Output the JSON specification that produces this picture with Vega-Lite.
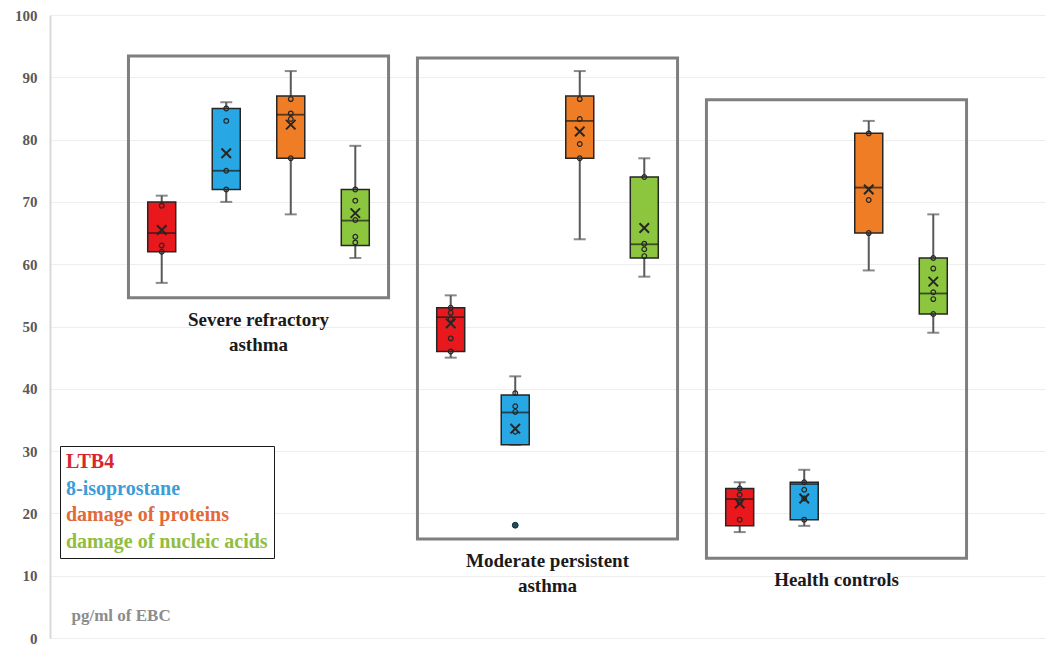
{
  "$schema": "https://vega.github.io/schema/vega-lite/v6.json",
  "width": 995,
  "height": 623,
  "autosize": {"type": "none"},
  "padding": {"left": 50, "top": 15, "right": 2, "bottom": 8},
  "background": "white",
  "config": {
    "view": {"stroke": null},
    "font": "Liberation Serif",
    "scale": {"bandPaddingInner": 0.1, "bandPaddingOuter": 0.2715, "offsetBandPaddingInner": 0, "offsetBandPaddingOuter": 0.0155}
  },
  "datasets": {
    "boxes": [
      {"group": "Severe", "marker": "LTB4", "lower": 57, "q1": 62, "median": 65, "q3": 70, "upper": 71, "mean": 65.5},
      {"group": "Severe", "marker": "8-isoprostane", "lower": 70, "q1": 72, "median": 75, "q3": 85, "upper": 86, "mean": 77.8},
      {"group": "Severe", "marker": "damage of proteins", "lower": 68, "q1": 77, "median": 84, "q3": 87, "upper": 91, "mean": 82.4},
      {"group": "Severe", "marker": "damage of nucleic acids", "lower": 61, "q1": 63, "median": 67, "q3": 72, "upper": 79, "mean": 68.2},
      {"group": "Moderate", "marker": "LTB4", "lower": 45, "q1": 46, "median": 51.5, "q3": 53, "upper": 55, "mean": 50.5},
      {"group": "Moderate", "marker": "8-isoprostane", "lower": 31, "q1": 31, "median": 36.2, "q3": 39, "upper": 42, "mean": 33.6},
      {"group": "Moderate", "marker": "damage of proteins", "lower": 64, "q1": 77, "median": 83, "q3": 87, "upper": 91, "mean": 81.3},
      {"group": "Moderate", "marker": "damage of nucleic acids", "lower": 58, "q1": 61, "median": 63.2, "q3": 74, "upper": 77, "mean": 65.8},
      {"group": "Health", "marker": "LTB4", "lower": 17, "q1": 18, "median": 22.3, "q3": 24, "upper": 25, "mean": 21.6},
      {"group": "Health", "marker": "8-isoprostane", "lower": 18, "q1": 19, "median": 24.7, "q3": 25, "upper": 27, "mean": 22.4},
      {"group": "Health", "marker": "damage of proteins", "lower": 59, "q1": 65, "median": 72.3, "q3": 81, "upper": 83, "mean": 72},
      {"group": "Health", "marker": "damage of nucleic acids", "lower": 49, "q1": 52, "median": 55.3, "q3": 61, "upper": 68, "mean": 57.2}
    ],
    "points": [
      {"group": "Severe", "marker": "LTB4", "value": 69.4, "kind": "inner"},
      {"group": "Severe", "marker": "LTB4", "value": 63, "kind": "inner"},
      {"group": "Severe", "marker": "LTB4", "value": 62, "kind": "inner"},
      {"group": "Severe", "marker": "8-isoprostane", "value": 85, "kind": "inner"},
      {"group": "Severe", "marker": "8-isoprostane", "value": 83, "kind": "inner"},
      {"group": "Severe", "marker": "8-isoprostane", "value": 75, "kind": "inner"},
      {"group": "Severe", "marker": "8-isoprostane", "value": 72, "kind": "inner"},
      {"group": "Severe", "marker": "damage of proteins", "value": 86.5, "kind": "inner"},
      {"group": "Severe", "marker": "damage of proteins", "value": 84.2, "kind": "inner"},
      {"group": "Severe", "marker": "damage of proteins", "value": 83.3, "kind": "inner"},
      {"group": "Severe", "marker": "damage of proteins", "value": 77, "kind": "inner"},
      {"group": "Severe", "marker": "damage of nucleic acids", "value": 72, "kind": "inner"},
      {"group": "Severe", "marker": "damage of nucleic acids", "value": 70.2, "kind": "inner"},
      {"group": "Severe", "marker": "damage of nucleic acids", "value": 67.1, "kind": "inner"},
      {"group": "Severe", "marker": "damage of nucleic acids", "value": 64.4, "kind": "inner"},
      {"group": "Severe", "marker": "damage of nucleic acids", "value": 63.5, "kind": "inner"},
      {"group": "Moderate", "marker": "LTB4", "value": 53, "kind": "inner"},
      {"group": "Moderate", "marker": "LTB4", "value": 52.2, "kind": "inner"},
      {"group": "Moderate", "marker": "LTB4", "value": 51.2, "kind": "inner"},
      {"group": "Moderate", "marker": "LTB4", "value": 48.1, "kind": "inner"},
      {"group": "Moderate", "marker": "LTB4", "value": 46, "kind": "inner"},
      {"group": "Moderate", "marker": "8-isoprostane", "value": 39.3, "kind": "inner"},
      {"group": "Moderate", "marker": "8-isoprostane", "value": 37.2, "kind": "inner"},
      {"group": "Moderate", "marker": "8-isoprostane", "value": 36.3, "kind": "inner"},
      {"group": "Moderate", "marker": "8-isoprostane", "value": 33.1, "kind": "inner"},
      {"group": "Moderate", "marker": "8-isoprostane", "value": 18.1, "kind": "outlier"},
      {"group": "Moderate", "marker": "damage of proteins", "value": 86.5, "kind": "inner"},
      {"group": "Moderate", "marker": "damage of proteins", "value": 83.3, "kind": "inner"},
      {"group": "Moderate", "marker": "damage of proteins", "value": 79.3, "kind": "inner"},
      {"group": "Moderate", "marker": "damage of proteins", "value": 77, "kind": "inner"},
      {"group": "Moderate", "marker": "damage of nucleic acids", "value": 74, "kind": "inner"},
      {"group": "Moderate", "marker": "damage of nucleic acids", "value": 63.3, "kind": "inner"},
      {"group": "Moderate", "marker": "damage of nucleic acids", "value": 62.4, "kind": "inner"},
      {"group": "Moderate", "marker": "damage of nucleic acids", "value": 61.3, "kind": "inner"},
      {"group": "Health", "marker": "LTB4", "value": 24, "kind": "inner"},
      {"group": "Health", "marker": "LTB4", "value": 23, "kind": "inner"},
      {"group": "Health", "marker": "LTB4", "value": 21.8, "kind": "inner"},
      {"group": "Health", "marker": "LTB4", "value": 19, "kind": "inner"},
      {"group": "Health", "marker": "8-isoprostane", "value": 25, "kind": "inner"},
      {"group": "Health", "marker": "8-isoprostane", "value": 23.8, "kind": "inner"},
      {"group": "Health", "marker": "8-isoprostane", "value": 22.4, "kind": "inner"},
      {"group": "Health", "marker": "8-isoprostane", "value": 19, "kind": "inner"},
      {"group": "Health", "marker": "damage of proteins", "value": 81, "kind": "inner"},
      {"group": "Health", "marker": "damage of proteins", "value": 70.3, "kind": "inner"},
      {"group": "Health", "marker": "damage of proteins", "value": 65, "kind": "inner"},
      {"group": "Health", "marker": "damage of nucleic acids", "value": 61, "kind": "inner"},
      {"group": "Health", "marker": "damage of nucleic acids", "value": 59.3, "kind": "inner"},
      {"group": "Health", "marker": "damage of nucleic acids", "value": 55.5, "kind": "inner"},
      {"group": "Health", "marker": "damage of nucleic acids", "value": 54.4, "kind": "inner"},
      {"group": "Health", "marker": "damage of nucleic acids", "value": 52, "kind": "inner"}
    ],
    "frames": [
      {"group": "Severe", "top": 93.4, "bottom": 54.6, "label": "Severe refractory\nasthma", "labelY": 51},
      {"group": "Moderate", "top": 93.1, "bottom": 15.9, "label": "Moderate persistent\nasthma", "labelY": 12.4},
      {"group": "Health", "top": 86.4, "bottom": 12.8, "label": "Health controls", "labelY": 9.3}
    ]
  },
  "layer": [
    {
      "data": {"name": "frames"},
      "mark": {"type": "rect", "filled": false, "stroke": "#7f7f7f", "strokeWidth": 3},
      "encoding": {
        "x": {"field": "group", "type": "nominal", "sort": ["Severe", "Moderate", "Health"], "axis": null},
        "y": {"field": "top", "type": "quantitative", "scale": {"domain": [0, 100], "nice": false}},
        "y2": {"field": "bottom"}
      }
    },
    {
      "data": {"name": "frames"},
      "mark": {"type": "text", "lineBreak": "\n", "font": "Liberation Serif", "fontWeight": "bold", "fontSize": 19, "color": "#1a1a1a", "align": "center", "baseline": "middle", "lineHeight": 25},
      "encoding": {
        "x": {"field": "group", "type": "nominal", "sort": ["Severe", "Moderate", "Health"]},
        "y": {"field": "labelY", "type": "quantitative"},
        "text": {"field": "label"}
      }
    },
    {
      "data": {"name": "boxes"},
      "mark": {"type": "rule", "stroke": "#595959", "strokeWidth": 2},
      "encoding": {
        "x": {"field": "group", "type": "nominal", "sort": ["Severe", "Moderate", "Health"]},
        "xOffset": {"field": "marker", "type": "nominal", "sort": ["LTB4", "8-isoprostane", "damage of proteins", "damage of nucleic acids"]},
        "y": {"field": "lower", "type": "quantitative"},
        "y2": {"field": "upper"}
      }
    },
    {
      "data": {"name": "boxes"},
      "mark": {"type": "tick", "color": "#595959", "size": 12, "thickness": 2},
      "encoding": {
        "x": {"field": "group", "type": "nominal", "sort": ["Severe", "Moderate", "Health"]},
        "xOffset": {"field": "marker", "type": "nominal", "sort": ["LTB4", "8-isoprostane", "damage of proteins", "damage of nucleic acids"]},
        "y": {"field": "upper", "type": "quantitative"}
      }
    },
    {
      "data": {"name": "boxes"},
      "mark": {"type": "tick", "color": "#595959", "size": 12, "thickness": 2},
      "encoding": {
        "x": {"field": "group", "type": "nominal", "sort": ["Severe", "Moderate", "Health"]},
        "xOffset": {"field": "marker", "type": "nominal", "sort": ["LTB4", "8-isoprostane", "damage of proteins", "damage of nucleic acids"]},
        "y": {"field": "lower", "type": "quantitative"}
      }
    },
    {
      "data": {"name": "boxes"},
      "mark": {"type": "bar", "size": 28, "stroke": "#262626", "strokeWidth": 1.5},
      "encoding": {
        "x": {"field": "group", "type": "nominal", "sort": ["Severe", "Moderate", "Health"]},
        "xOffset": {"field": "marker", "type": "nominal", "sort": ["LTB4", "8-isoprostane", "damage of proteins", "damage of nucleic acids"]},
        "y": {
          "field": "q1", "type": "quantitative",
          "axis": {
            "values": [0, 10, 20, 30, 40, 50, 60, 70, 80, 90, 100],
            "grid": true, "gridColor": "#eeeeee", "gridWidth": 1,
            "ticks": false,
            "domainColor": "#d9d9d9", "domainWidth": 2,
            "labelFont": "Liberation Serif", "labelFontWeight": "bold", "labelFontSize": 15, "labelColor": "#595959", "labelPadding": 13,
            "title": "pg/ml of EBC", "titleAngle": 0, "titleX": 21, "titleY": 600, "titleAlign": "left", "titleBaseline": "middle",
            "titleFont": "Liberation Serif", "titleFontWeight": "bold", "titleFontSize": 17, "titleColor": "#8c8c8c"
          }
        },
        "y2": {"field": "q3"},
        "fill": {
          "field": "marker", "type": "nominal",
          "scale": {"domain": ["LTB4", "8-isoprostane", "damage of proteins", "damage of nucleic acids"], "range": ["#e8181d", "#27a8e4", "#ee7d26", "#8cc63f"]},
          "legend": {
            "orient": "none", "legendX": 10, "legendY": 431, "title": null,
            "symbolSize": 0, "symbolOpacity": 0, "symbolStrokeWidth": 0, "labelOffset": -20,
            "labelFont": "Liberation Serif", "labelFontWeight": "bold", "labelFontSize": 20, "labelBaseline": "middle",
            "labelColor": {"expr": "datum.value === 'LTB4' ? '#d8262b' : datum.value === '8-isoprostane' ? '#3c9dd8' : datum.value === 'damage of proteins' ? '#e2693a' : '#92bd3e'"},
            "rowPadding": 6.5, "padding": 6, "strokeColor": "#1a1a1a", "fillColor": "white",
            "labelLimit": 400,
            "encode": {"legend": {"strokeWidth": {"value": 2.5}}}
          }
        }
      }
    },
    {
      "data": {"name": "boxes"},
      "mark": {"type": "tick", "color": "#1a1a1a", "size": 28, "thickness": 1.8},
      "encoding": {
        "x": {"field": "group", "type": "nominal", "sort": ["Severe", "Moderate", "Health"]},
        "xOffset": {"field": "marker", "type": "nominal", "sort": ["LTB4", "8-isoprostane", "damage of proteins", "damage of nucleic acids"]},
        "y": {"field": "median", "type": "quantitative"}
      }
    },
    {
      "data": {"name": "points"},
      "transform": [{"filter": "datum.kind === 'inner'"}],
      "mark": {"type": "point", "shape": "circle", "filled": false, "stroke": "#262626", "strokeWidth": 1.2, "size": 22, "opacity": 1},
      "encoding": {
        "x": {"field": "group", "type": "nominal", "sort": ["Severe", "Moderate", "Health"]},
        "xOffset": {"field": "marker", "type": "nominal", "sort": ["LTB4", "8-isoprostane", "damage of proteins", "damage of nucleic acids"]},
        "y": {"field": "value", "type": "quantitative"}
      }
    },
    {
      "data": {"name": "points"},
      "transform": [{"filter": "datum.kind === 'outlier'"}],
      "mark": {"type": "point", "shape": "circle", "filled": true, "fill": "#1d4d5e", "stroke": "#0f2f3a", "strokeWidth": 1, "size": 34, "opacity": 1},
      "encoding": {
        "x": {"field": "group", "type": "nominal", "sort": ["Severe", "Moderate", "Health"]},
        "xOffset": {"field": "marker", "type": "nominal", "sort": ["LTB4", "8-isoprostane", "damage of proteins", "damage of nucleic acids"]},
        "y": {"field": "value", "type": "quantitative"}
      }
    },
    {
      "data": {"name": "boxes"},
      "mark": {"type": "point", "shape": "M-1,-1L1,1M-1,1L1,-1", "filled": false, "stroke": "#262626", "strokeWidth": 2, "size": 90, "opacity": 1},
      "encoding": {
        "x": {"field": "group", "type": "nominal", "sort": ["Severe", "Moderate", "Health"]},
        "xOffset": {"field": "marker", "type": "nominal", "sort": ["LTB4", "8-isoprostane", "damage of proteins", "damage of nucleic acids"]},
        "y": {"field": "mean", "type": "quantitative"}
      }
    }
  ]
}
